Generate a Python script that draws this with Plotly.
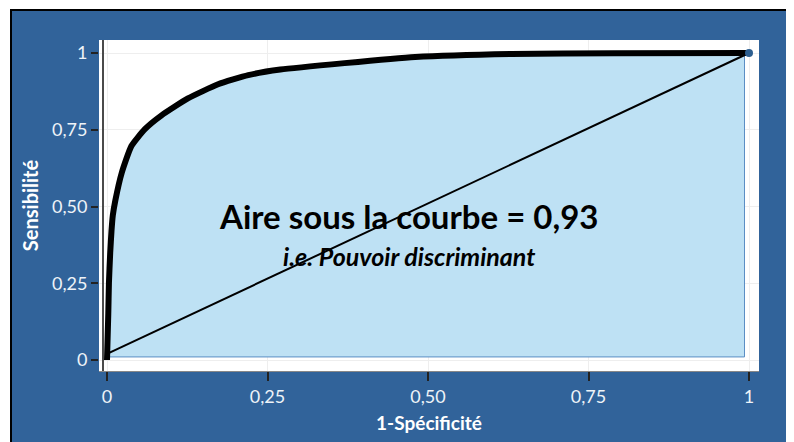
import plotly.graph_objects as go

# ROC curve values
fpr = [0, 0.002, 0.003, 0.005, 0.007, 0.009, 0.013, 0.023, 0.038, 0.059, 0.085,
       0.126, 0.173, 0.22, 0.27, 0.37, 0.48, 0.63, 0.79, 1.0]
tpr = [0, 0.15, 0.25, 0.35, 0.42, 0.47, 0.52, 0.61, 0.697, 0.752, 0.797,
       0.852, 0.898, 0.928, 0.946, 0.967, 0.987, 0.997, 0.999, 1.0]
# shaded area edges
fill_right_x = 0.993
fill_base_y = 0.01
# reference diagonal
diag_x = [0, 1]
diag_y = [0.02, 1]

tick_vals = [0, 0.25, 0.5, 0.75, 1]
tick_text = ["0", "0,25", "0,50", "0,75", "1"]

title_text = "Aire sous la courbe = 0,93"
sub_text = "i.e. Pouvoir discriminant"
x_title = "1-Spécificité"
y_title = "Sensibilité"

# page body has an 8px margin; figure sits at (8,8)
W, H = 786, 434
L, R, T, B = 91, 35, 32, 71
pw, ph = W - L - R, H - T - B

def px2x(px):
    return (px - L) / pw

def py2y(py):
    return (H - B - py) / ph

blue = "#31639a"
font = "Lato"

fig = go.Figure()

poly_x = fpr[:-1] + [fill_right_x, fill_right_x, 0]
poly_y = tpr[:-1] + [1.0, fill_base_y, fill_base_y]
fig.add_trace(go.Scatter(x=poly_x, y=poly_y, fill="toself", mode="lines",
                         fillcolor="#bee1f4", line=dict(color="#5b8ec4", width=1),
                         hoverinfo="skip", showlegend=False))
fig.add_trace(go.Scatter(x=diag_x, y=diag_y, mode="lines",
                         line=dict(color="black", width=2), showlegend=False))
fig.add_trace(go.Scatter(x=fpr, y=tpr, mode="lines",
                         line=dict(color="black", width=6, shape="spline", smoothing=0.5),
                         showlegend=False))
fig.add_trace(go.Scatter(x=[fpr[-1]], y=[tpr[-1]], mode="markers",
                         marker=dict(color="#2d5f90", size=8), showlegend=False))

fig.add_annotation(x=0.47, y=0.469, text="<b>" + title_text + "</b>", showarrow=False,
                   font=dict(family=font, size=33, color="black"))
fig.add_annotation(x=0.47, y=0.339, text="<b><i>" + sub_text + "</i></b>", showarrow=False,
                   font=dict(family=font, size=25, color="black"))

shapes = [
    dict(type="rect", xref="paper", yref="paper", layer="below",
         x0=px2x(3), x1=px2x(820), y0=py2y(460), y1=py2y(2),
         fillcolor=blue, line=dict(color="black", width=2)),
    dict(type="rect", xref="paper", yref="paper", layer="below",
         x0=0, x1=1, y0=0, y1=1, fillcolor="white", line=dict(width=0)),
    dict(type="line", xref="paper", yref="paper", layer="above",
         x0=px2x(95), x1=px2x(95), y0=0, y1=1,
         line=dict(color="#4a4a4a", width=2)),
]

fig.update_layout(
    width=W, height=H,
    margin=dict(l=L, r=R, t=T, b=B),
    paper_bgcolor="white", plot_bgcolor="rgba(0,0,0,0)",
    shapes=shapes,
    font=dict(family=font, color="white"),
    xaxis=dict(range=[(99 - 107) / 642, (759 - 107) / 642],
               tickvals=tick_vals, ticktext=tick_text,
               ticks="outside", ticklen=9, tickwidth=2, tickcolor="#222",
               tickfont=dict(family=font, size=18, color="#eef3f8"),
               showgrid=True, gridcolor="#eeeeee", zeroline=False,
               showline=True, linecolor="#888", linewidth=1,
               title=dict(text="<b>" + x_title + "</b>", font=dict(family=font, size=19, color="white"),
                          standoff=11)),
    yaxis=dict(range=[(360 - 371) / 307, (360 - 40) / 307],
               tickvals=tick_vals, ticktext=tick_text,
               ticks="outside", ticklen=7, tickwidth=2, tickcolor="#222",
               tickfont=dict(family=font, size=18, color="#eef3f8"),
               showgrid=True, gridcolor="#eeeeee", zeroline=False,
               title=dict(text="<b>" + y_title + "</b>", font=dict(family=font, size=20, color="white"),
                          standoff=7)),
)

fig.write_html("out.html")
